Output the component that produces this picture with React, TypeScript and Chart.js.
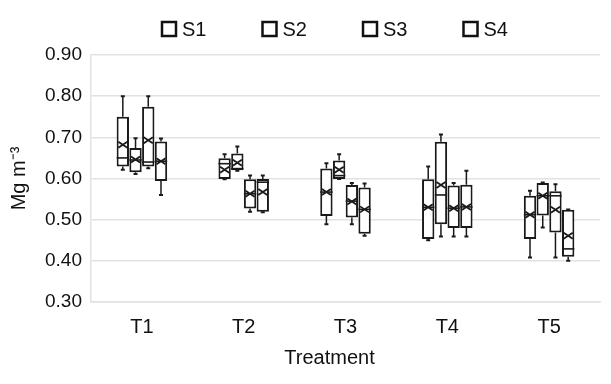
import React, { useEffect, useRef } from "react";
import { Chart, registerables } from "chart.js";

Chart.register(...registerables);

const categories = ["T1", "T2", "T3", "T4", "T5"];
const seriesNames = ["S1", "S2", "S3", "S4"];

// one row per series (S1..S4), one value per treatment (T1..T5)
const minValues = [
  [0.621, 0.598, 0.489, 0.45, 0.408],
  [0.611, 0.619, 0.599, 0.459, 0.481],
  [0.625, 0.519, 0.489, 0.459, 0.408],
  [0.56, 0.518, 0.461, 0.459, 0.4],
];
const q1Values = [
  [0.629, 0.599, 0.509, 0.453, 0.453],
  [0.615, 0.62, 0.599, 0.489, 0.51],
  [0.629, 0.527, 0.505, 0.48, 0.469],
  [0.594, 0.519, 0.466, 0.48, 0.41],
];
const medianValues = [
  [0.65, 0.636, 0.567, 0.53, 0.512],
  [0.645, 0.624, 0.607, 0.56, 0.558],
  [0.64, 0.563, 0.545, 0.528, 0.558],
  [0.642, 0.591, 0.525, 0.531, 0.429],
];
const meanValues = [
  [0.682, 0.621, 0.567, 0.53, 0.512],
  [0.646, 0.638, 0.621, 0.584, 0.558],
  [0.693, 0.563, 0.544, 0.528, 0.524],
  [0.642, 0.567, 0.525, 0.531, 0.461],
];
const q3Values = [
  [0.75, 0.649, 0.624, 0.598, 0.558],
  [0.674, 0.661, 0.644, 0.689, 0.589],
  [0.774, 0.598, 0.584, 0.583, 0.569],
  [0.69, 0.599, 0.578, 0.585, 0.524],
];
const maxValues = [
  [0.8, 0.659, 0.637, 0.629, 0.57],
  [0.698, 0.678, 0.659, 0.707, 0.59],
  [0.8, 0.607, 0.589, 0.589, 0.586],
  [0.697, 0.607, 0.588, 0.619, 0.525],
];

const yMin = 0.3;
const yMax = 0.9;
const yStep = 0.1;

const FONT = '"Liberation Sans Narrow", "Arial Narrow", "Liberation Sans", Arial, sans-serif';

const boxPlugin = {
  id: "boxExtras",
  afterDatasetsDraw(chart: any) {
    const ctx = chart.ctx;
    const y = chart.scales.y;
    ctx.save();
    ctx.strokeStyle = "#1a1a1a";
    chart.data.datasets.forEach((ds: any, di: number) => {
      const meta = chart.getDatasetMeta(di);
      meta.data.forEach((bar: any, i: number) => {
        const x = bar.x;
        const w = bar.width;
        const pMin = y.getPixelForValue(minValues[di][i]);
        const pQ1 = y.getPixelForValue(q1Values[di][i]);
        const pMed = y.getPixelForValue(medianValues[di][i]);
        const pMean = y.getPixelForValue(meanValues[di][i]);
        const pQ3 = y.getPixelForValue(q3Values[di][i]);
        const pMax = y.getPixelForValue(maxValues[di][i]);
        // whiskers
        ctx.lineWidth = 1.5;
        ctx.beginPath();
        ctx.moveTo(x, pQ3);
        ctx.lineTo(x, pMax);
        ctx.moveTo(x, pQ1);
        ctx.lineTo(x, pMin);
        ctx.stroke();
        ctx.lineWidth = 2;
        ctx.beginPath();
        ctx.moveTo(x - 2, pMax);
        ctx.lineTo(x + 2, pMax);
        ctx.moveTo(x - 2, pMin);
        ctx.lineTo(x + 2, pMin);
        ctx.stroke();
        // median
        ctx.lineWidth = 1.6;
        ctx.beginPath();
        ctx.moveTo(x - w / 2, pMed);
        ctx.lineTo(x + w / 2, pMed);
        ctx.stroke();
        // mean marker (X)
        ctx.lineWidth = 1.8;
        ctx.beginPath();
        ctx.moveTo(x - 4.5, pMean - 3);
        ctx.lineTo(x + 4.5, pMean + 3);
        ctx.moveTo(x - 4.5, pMean + 3);
        ctx.lineTo(x + 4.5, pMean - 3);
        ctx.stroke();
      });
    });
    ctx.restore();
  },
  afterDraw(chart: any) {
    const ctx = chart.ctx;
    const area = chart.chartArea;
    ctx.save();
    // legend
    ctx.font = `20px ${FONT}`;
    ctx.textBaseline = "middle";
    ctx.textAlign = "left";
    const stride = 100.5;
    const start = area.left + 71;
    chart.data.datasets.forEach((ds: any, i: number) => {
      const bx = start + i * stride;
      ctx.fillStyle = "#ffffff";
      ctx.fillRect(bx, 22, 14, 14);
      ctx.strokeStyle = "#111";
      ctx.lineWidth = 2.5;
      ctx.strokeRect(bx, 22, 14, 14);
      ctx.fillStyle = "#111";
      ctx.fillText(ds.label, bx + 20, 30);
    });
    // x axis title
    ctx.textAlign = "center";
    ctx.fillText("Treatment", (area.left + area.right) / 2 - 16, 358);
    ctx.restore();
  },
};

export default function App() {
  const ref = useRef<HTMLCanvasElement | null>(null);
  useEffect(() => {
    if (!ref.current) return;
    const datasets = seriesNames.map((name, si) => ({
      label: name,
      data: categories.map((_, i) => [q1Values[si][i], q3Values[si][i]]),
      backgroundColor: "#ffffff",
      borderColor: "#1a1a1a",
      borderWidth: 2,
      borderSkipped: false,
      categoryPercentage: 0.5,
      barPercentage: 0.97,
    }));
    const chart = new Chart(ref.current, {
      type: "bar",
      data: { labels: categories, datasets },
      options: {
        animation: false,
        responsive: false,
        layout: { padding: { top: 55, right: 11, bottom: 0, left: 0 } },
        plugins: {
          legend: { display: false },
          tooltip: { enabled: false },
        },
        scales: {
          x: {
            grid: { display: false },
            border: { display: true, color: "#e2e2e2", width: 1.5 },
            ticks: { color: "#111", font: { family: FONT, size: 20 }, padding: 5 },
            afterFit: (s: any) => {
              s.height = 82;
            },
          },
          y: {
            min: yMin,
            max: yMax,
            grid: { color: "#e2e2e2", lineWidth: 1.5, drawTicks: false },
            border: { display: true, color: "#e2e2e2", width: 1.5 },
            ticks: {
              stepSize: yStep,
              padding: 9,
              color: "#111",
              font: { family: FONT, size: 19 },
              callback: (v: any) => Number(v).toFixed(2),
            },
            title: {
              display: true,
              text: "Mg m⁻³",
              color: "#111",
              font: { family: FONT, size: 20 },
              padding: { top: 7, bottom: 0 },
            },
            afterFit: (s: any) => {
              s.width = 91;
            },
          },
        },
      },
      plugins: [boxPlugin],
    });
    return () => chart.destroy();
  }, []);
  return (
    <div style={{ position: "absolute", left: 0, top: 0, width: 611, height: 384, background: "#fff" }}>
      <canvas ref={ref} width={611} height={384} />
    </div>
  );
}
